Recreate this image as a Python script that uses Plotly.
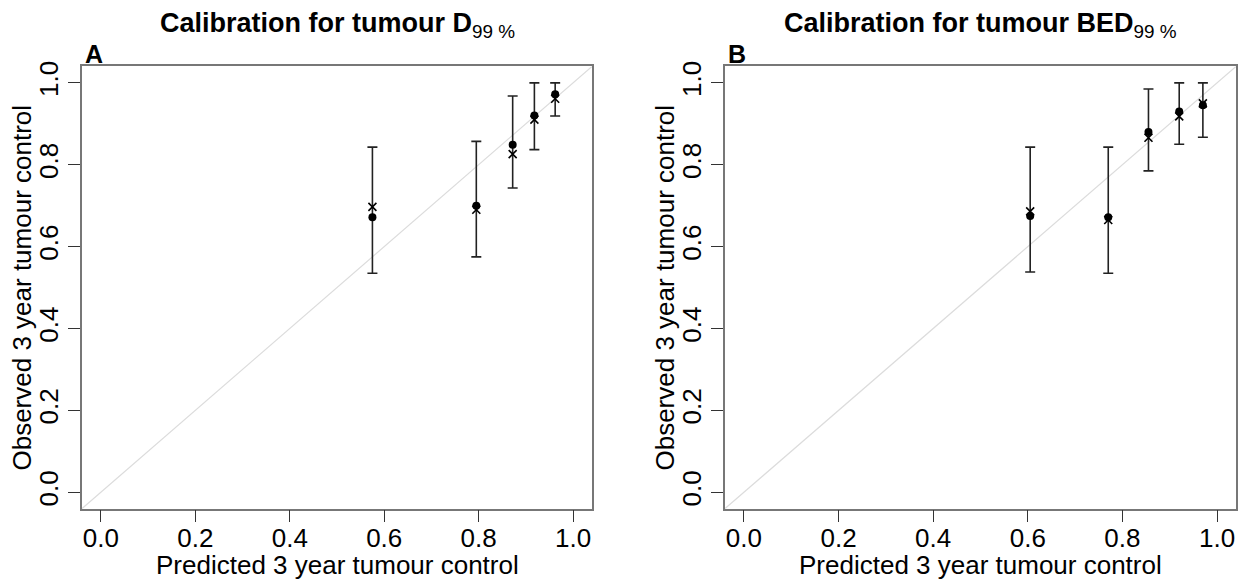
import plotly.graph_objects as go

# ---- data ----
pred_a = [0.575, 0.795, 0.872, 0.918, 0.962]
obs_dot_a = [0.672, 0.700, 0.849, 0.920, 0.972]
obs_x_a = [0.697, 0.690, 0.826, 0.910, 0.961]
ci_lo_a = [0.535, 0.575, 0.743, 0.837, 0.919]
ci_hi_a = [0.843, 0.857, 0.968, 1.000, 1.000]

pred_b = [0.605, 0.770, 0.855, 0.920, 0.970]
obs_dot_b = [0.675, 0.672, 0.880, 0.930, 0.945]
obs_x_b = [0.686, 0.665, 0.866, 0.918, 0.950]
ci_lo_b = [0.538, 0.535, 0.785, 0.850, 0.867]
ci_hi_b = [0.843, 0.843, 0.985, 1.000, 1.000]

ticks = [0.0, 0.2, 0.4, 0.6, 0.8, 1.0]
tick_text = ["0.0", "0.2", "0.4", "0.6", "0.8", "1.0"]
diag = [-0.04, 1.04]

FONT = "Liberation Sans, Arial, sans-serif"
W, H = 1242, 581

fig = go.Figure()

panels = [
    ("x", "y", pred_a, obs_dot_a, obs_x_a, ci_lo_a, ci_hi_a),
    ("x2", "y2", pred_b, obs_dot_b, obs_x_b, ci_lo_b, ci_hi_b),
]
for xa, ya, px, pd_, pc, lo, hi in panels:
    fig.add_trace(go.Scatter(x=diag, y=diag, mode="lines", xaxis=xa, yaxis=ya,
                             line=dict(color="#dcdcdc", width=1.2), showlegend=False,
                             hoverinfo="skip"))
    fig.add_trace(go.Scatter(
        x=px, y=pd_, mode="markers", xaxis=xa, yaxis=ya, showlegend=False,
        marker=dict(symbol="circle", size=8, color="black"),
        error_y=dict(type="data", symmetric=False,
                     array=[h - d for h, d in zip(hi, pd_)],
                     arrayminus=[d - l for d, l in zip(pd_, lo)],
                     color="#222222", thickness=1.6, width=5)))
    fig.add_trace(go.Scatter(
        x=px, y=pc, mode="markers", xaxis=xa, yaxis=ya, showlegend=False,
        marker=dict(symbol="x-thin", size=8, color="black",
                    line=dict(color="black", width=1.6))))

axis_common = dict(range=[-0.04, 1.04], tickvals=ticks, ticktext=tick_text,
                   ticks="outside", ticklen=12, tickwidth=1.2, tickcolor="#333",
                   showgrid=False, zeroline=False, showline=True, linecolor="#777",
                   linewidth=1.5, mirror=True,
                   tickfont=dict(family=FONT, size=26, color="black"))

ydom = [1 - 508 / H, 1 - 62 / H]
xdom_a = [82 / W, 592 / W]
xdom_b = [725 / W, 1236 / W]

fig.update_layout(
    width=W, height=H, margin=dict(l=0, r=0, t=0, b=0),
    paper_bgcolor="white", plot_bgcolor="white",
    xaxis=dict(domain=xdom_a, anchor="y", ticklabelstandoff=-7, **axis_common),
    yaxis=dict(domain=ydom, anchor="x", **axis_common, tickangle=-90),
    xaxis2=dict(domain=xdom_b, anchor="y2", ticklabelstandoff=-7, **axis_common),
    yaxis2=dict(domain=ydom, anchor="x2", **axis_common, tickangle=-90),
)

ann = []
for xd, letter, ttl in [(xdom_a, "A", "D"), (xdom_b, "B", "BED")]:
    cx = (xd[0] + xd[1]) / 2
    ann.append(dict(text=f"<b>Calibration for tumour {ttl}</b><sub>99 %</sub>", x=cx, y=1 - 20 / H,
                    xref="paper", yref="paper", showarrow=False, xanchor="center",
                    yanchor="middle", font=dict(family=FONT, size=27, color="black")))
    ann.append(dict(text=f"<b>{letter}</b>", x=xd[0] + 0.5 / W, y=1 - 49 / H, xref="paper",
                    yref="paper", showarrow=False, xanchor="left", yanchor="middle",
                    font=dict(family=FONT, size=25, color="black")))
    ann.append(dict(text="Predicted 3 year tumour control", x=cx, y=1 - 565 / H,
                    xref="paper", yref="paper", showarrow=False, xanchor="center",
                    yanchor="middle", font=dict(family=FONT, size=26, color="black")))
    ann.append(dict(text="Observed 3 year tumour control", x=xd[0] - 60 / W,
                    y=(ydom[0] + ydom[1]) / 2, xref="paper", yref="paper", showarrow=False,
                    xanchor="center", yanchor="middle", textangle=-90,
                    font=dict(family=FONT, size=26, color="black")))
fig.update_layout(annotations=ann)

fig.write_html("out.html")
